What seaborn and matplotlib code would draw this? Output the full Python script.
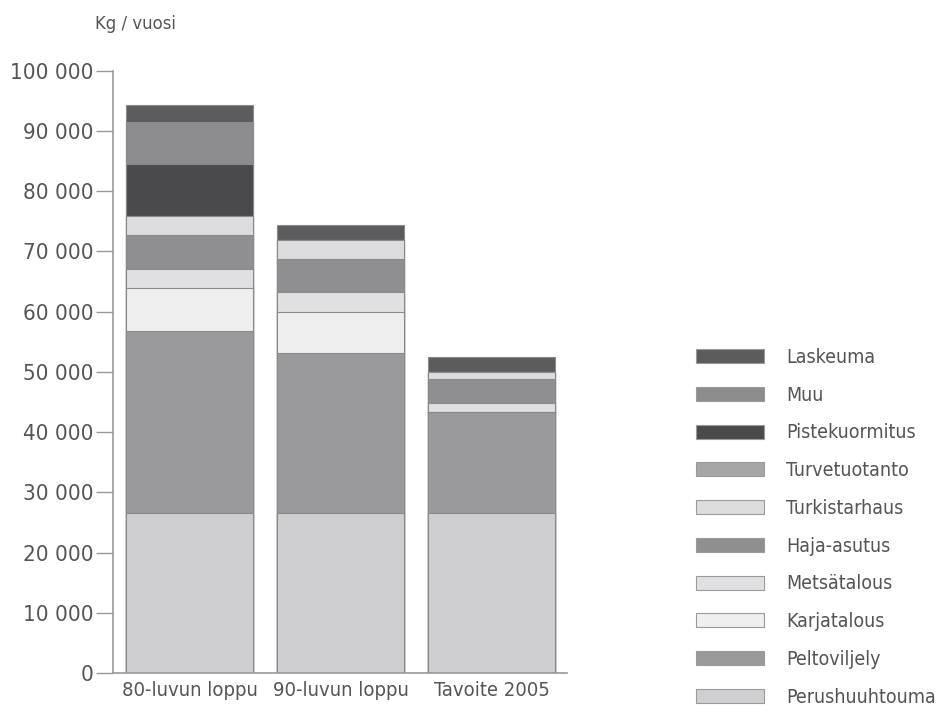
import pandas as pd
import seaborn as sns
import matplotlib.pyplot as plt
from matplotlib import font_manager as fm
from matplotlib.patches import Patch
from matplotlib.ticker import FuncFormatter

# data (kg / vuosi)
jaksot = ['80-luvun loppu', '90-luvun loppu', 'Tavoite 2005']
lahteet = ['Perushuuhtouma', 'Peltoviljely', 'Karjatalous', 'Metsätalous', 'Haja-asutus',
           'Turkistarhaus', 'Turvetuotanto', 'Pistekuormitus', 'Muu', 'Laskeuma']
perushuuhtouma = [26500, 26500, 26500]
peltoviljely = [30300, 26600, 16900]
karjatalous = [7200, 6900, 0]
metsatalous = [3100, 3300, 1400]
haja_asutus = [5600, 5400, 4000]
turkistarhaus = [3100, 3200, 1200]
turvetuotanto = [0, 0, 0]
pistekuormitus = [8700, 0, 0]
muu = [7000, 0, 0]
laskeuma = [2800, 2500, 2500]

varit = ['#cfcfd1', '#9a9a9c', '#efefef', '#e0e0e2', '#8f8f91',
         '#dcdcde', '#a6a6a8', '#4a4a4c', '#8c8c8e', '#5c5c5e']

arvot = [perushuuhtouma, peltoviljely, karjatalous, metsatalous, haja_asutus,
         turkistarhaus, turvetuotanto, pistekuormitus, muu, laskeuma]
df = pd.DataFrame({l: v for l, v in zip(lahteet, arvot)}, index=jaksot)
cum = df.cumsum(axis=1)

sns.set_style("white")

# look for a narrow font, the reference uses a condensed face
kapeat = [f for f in fm.fontManager.ttflist
          if ('Narrow' in f.name or 'Condensed' in f.name
              or f.stretch in ('condensed', 'semi-condensed', 'extra-condensed'))
          and f.style == 'normal']
if kapeat:
    f0 = kapeat[0]
    plt.rcParams['font.family'] = [f0.name, 'DejaVu Sans']
    plt.rcParams['font.stretch'] = f0.stretch
    k = 1.0
else:
    plt.rcParams['font.family'] = ['DejaVu Sans']
    k = 0.75
fs_y, fs_x, fs_leg, fs_t = 16 * k, 14.5 * k, 14 * k, 13.2 * k
tc = '#555555'

fig = plt.figure(figsize=(9.38, 7.15), dpi=100)
ax = fig.add_axes([0.1205, 0.0587, 0.484, 0.8424])

# stacked bars: draw cumulative totals from the top down
for lahde, vari in reversed(list(zip(lahteet, varit))):
    d = pd.DataFrame({'jakso': jaksot, 'arvo': cum[lahde].values})
    sns.barplot(data=d, x='jakso', y='arvo', color=vari, width=0.84,
                edgecolor='#8a8a8a', linewidth=0.8, saturation=1, ax=ax)

ax.set_ylim(0, 100000)
ax.set_xlim(-0.507, 2.5)
ax.set_xlabel('')
ax.set_ylabel('')
ax.set_yticks(range(0, 100001, 10000))
ax.yaxis.set_major_formatter(FuncFormatter(lambda v, p: f'{int(v):,}'.replace(',', ' ')))
ax.tick_params(axis='y', length=12, width=1, color='#999999', labelsize=fs_y,
               labelcolor=tc, pad=2, left=True)
ax.tick_params(axis='x', length=0, labelsize=fs_x, labelcolor=tc, pad=6)
sns.despine(ax=ax, top=True, right=True)
for s in ['left', 'bottom']:
    ax.spines[s].set_color('#999999')
    ax.spines[s].set_linewidth(1.2)

fig.text(0.101, 0.960, 'Kg / vuosi', fontsize=fs_t, color=tc, ha='left', va='baseline')

handles = [Patch(facecolor=c, edgecolor='#9a9a9a', linewidth=0.8, label=l)
           for l, c in zip(lahteet, varit)][::-1]
em = fs_leg * 100 / 72
fig.legend(handles=handles, loc='upper left', bbox_to_anchor=(0.732, 0.527),
           frameon=False, fontsize=fs_leg, labelcolor=tc, borderpad=0,
           handlelength=68 / em, handleheight=14 / em,
           handletextpad=22 / em,
           labelspacing=(38.2 - em) / em)

fig.savefig('out.png', dpi=100, facecolor='white')
